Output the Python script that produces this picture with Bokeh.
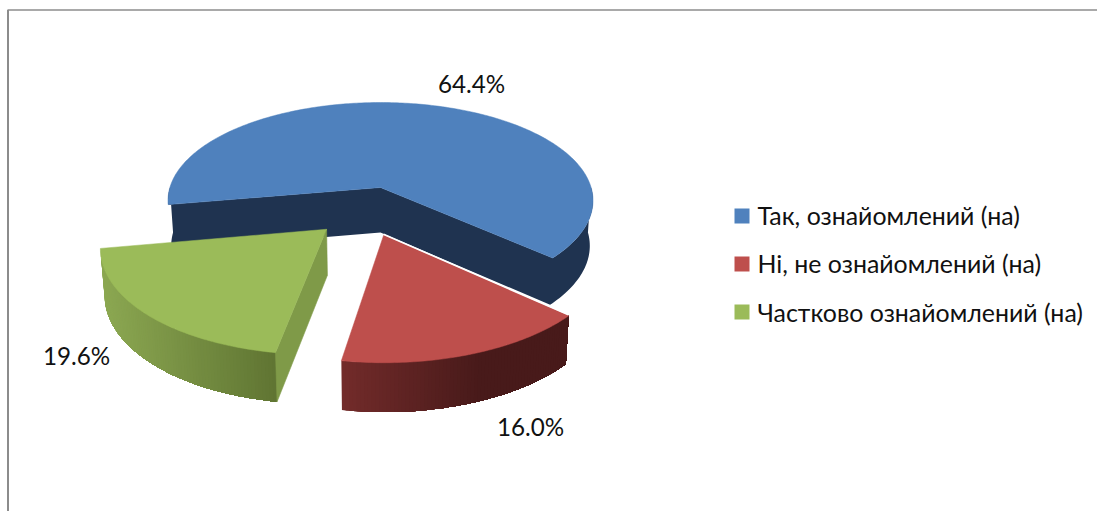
import math
from bokeh.plotting import figure
from bokeh.embed import file_html
from bokeh.resources import INLINE
from bokeh.core.properties import value

categories = ["Так, ознайомлений (на)", "Ні, не ознайомлений (на)", "Частково ознайомлений (на)"]
shares = [64.4, 16.0, 19.6]

# styling / layout
top_colors = ["#4F81BD", "#BE4F4C", "#9BBB59"]
wall_left = ["#1F3350", "#722B2A", "#8CA852"]
wall_right = ["#1F3350", "#481A1A", "#5F7432"]
FONT = "Lato"
CX, CY = 380.0, 187.0      # pixel position of the pie centre
A, B, K = 210.6, 96.3, 0.133  # perspective projection of the pie plane
DEPTH, SX, SY = 45.0, 0.985, 1.025
START = 170.0              # first slice angle, clockwise on screen from +x
explode = [(0.0, 0.0), (0.014, 0.465), (-0.242, 0.41)]
label_pos = [(471, 83), (530, 426), (76, 355)]
legend_y = [214.5, 262.5, 311.5]

p = figure(width=1097, height=511, x_range=(0, 1097), y_range=(511, 0),
           output_backend="svg", toolbar_location=None, min_border=0,
           outline_line_color=None)
p.axis.visible = False
p.grid.visible = False
p.xaxis.visible = False
p.yaxis.visible = False


def top(u, v):
    w = 1 - K * v
    return CX + A * u / w, CY + B * v / w


def bottom(u, v):
    w = 1 - K * v
    return CX + SX * A * u / w, CY + DEPTH + SY * B * v / w


def mix(c1, c2, t):
    t = max(0.0, min(1.0, t))
    a = [int(c1[i:i + 2], 16) for i in (1, 3, 5)]
    b = [int(c2[i:i + 2], 16) for i in (1, 3, 5)]
    return "#%02x%02x%02x" % tuple(round(x + (y - x) * t) for x, y in zip(a, b))


def arc(a0, a1, ex, ey, n):
    pts = []
    for i in range(n + 1):
        t = math.radians(a0 + (a1 - a0) * i / n)
        pts.append((math.cos(t) + ex, math.sin(t) + ey))
    return pts


def wall(seq):
    """Band between the top and bottom edge along a run of plane points."""
    tops = [top(*q) for q in seq]
    bots = [bottom(*q) for q in reversed(seq)]
    return [q[0] for q in tops + bots], [q[1] for q in tops + bots]


total = sum(shares)
angles = []
a = START
for s in shares:
    angles.append((a, a + s / total * 360))
    a += s / total * 360

for i, ((a0, a1), (ex, ey)) in enumerate(zip(angles, explode)):
    n = max(30, int((a1 - a0) * 1.2))
    pts = arc(a0, a1, ex, ey, n)
    tip = (ex, ey)
    if i == 0:
        # rim facing the viewer and both inner walls, as one flat shape
        chain = arc(180.0, a0, ex, ey, 10) + [tip] + arc(a1, 360.0, ex, ey, 40)
        xs, ys = wall(chain)
        p.patch(xs, ys, fill_color=wall_left[0], line_color=None)
    else:
        # painter's order: every band overlaps the next, so the shade has no seams
        xs_all = [top(*q)[0] for q in pts]
        xmin, xmax = min(xs_all), max(xs_all)
        order = pts if xs_all[0] < xs_all[-1] else pts[::-1]
        for j in range(0, len(order) - 1):
            frac = (top(*order[j])[0] - xmin) / (xmax - xmin)
            if i == 1:
                frac = frac / 0.6
            xs, ys = wall(order[j:])
            p.patch(xs, ys, fill_color=mix(wall_left[i], wall_right[i], frac), line_color=None)
    if i == 2:   # cut face of the green slice
        xs, ys = wall([tip, pts[0]])
        p.patch(xs, ys, fill_color="#7F9A48", line_color="#7F9A48", line_width=0.6)

    poly = [top(*tip)] + [top(*q) for q in pts]
    p.patch([q[0] for q in poly], [q[1] for q in poly],
            fill_color=top_colors[i], line_color=top_colors[i], line_width=0.5)
    if i == 1:   # light seam on the red slice's rear edge
        t0, t1 = top(*tip), top(*pts[0])
        p.line([t0[0], t1[0]], [t0[1] - 1, t1[1] - 1], line_color="white", line_width=1.5)

# data labels
p.text([q[0] for q in label_pos], [q[1] for q in label_pos],
       text=[f"{s:.1f}%" for s in shares], text_align="center", text_baseline="middle",
       text_font=value(FONT), text_font_size="24.2px", text_color="#111111")

# legend
p.rect([741.5] * 3, [215.5, 263.5, 311.5], width=15, height=15, fill_color=top_colors, line_color=None)
p.text([757] * 3, legend_y, text=categories, text_align="left", text_baseline="middle",
       text_font=value(FONT), text_font_size="24.9px", text_color="#111111")

# frame of the chart area
p.line([7.5, 7.5], [9.5, 511], line_color="#8C8C8C", line_width=2)
p.line([7, 1097], [9.5, 9.5], line_color="#8C8C8C", line_width=1.5)

open("out.html", "w").write(file_html(p, INLINE))
